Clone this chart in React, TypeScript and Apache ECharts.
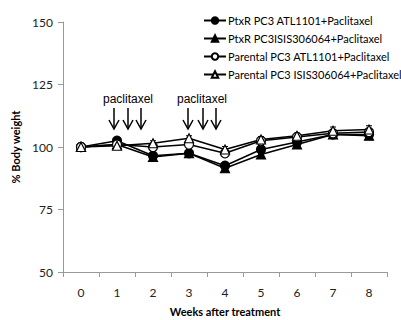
import React, { useEffect, useRef } from "react";
import * as echarts from "echarts";

const weeks = ["0", "1", "2", "3", "4", "5", "6", "7", "8"];
const ptxrAtl = [100, 102.5, 96.5, 97.5, 92.5, 99, 102, 105, 105];
const ptxrIsis = [100, 101, 96, 97.5, 91.5, 97, 101, 105, 104.5];
const parAtl = [100, 101, 100, 101, 97.5, 102.5, 104, 105.5, 106];
const parIsis = [100, 100.5, 101.5, 103.5, 99, 103, 104.5, 106.5, 107];
const errPtxrAtl = [0.5, 0.8, 1, 1, 1.2, 1.5, 1.2, 1, 1];
const errPtxrIsis = [0.5, 0.8, 1, 1, 1.2, 1.5, 1.2, 1, 1];
const errParAtl = [0.5, 0.8, 1, 1, 1.2, 1.2, 1, 1.2, 1.2];
const errParIsis = [0.5, 0.8, 1, 1, 1.2, 1.2, 1, 1.5, 1.5];
const seriesNames = [
  "PtxR PC3 ATL1101+Paclitaxel",
  "PtxR PC3ISIS306064+Paclitaxel",
  "Parental PC3 ATL1101+Paclitaxel",
  "Parental PC3 ISIS306064+Paclitaxel",
];
const annotationText = "paclitaxel";

function errorSeries(values: number[], errs: number[]) {
  return {
    type: "custom",
    silent: true,
    z: 1,
    data: values.map((v, i) => [i, v - errs[i], v + errs[i]]),
    renderItem: (params: any, api: any) => {
      const x = api.value(0);
      const lo = api.coord([x, api.value(1)]);
      const hi = api.coord([x, api.value(2)]);
      const w = 3;
      const style = { stroke: "#000", lineWidth: 1 };
      return {
        type: "group",
        children: [
          { type: "line", shape: { x1: lo[0], y1: lo[1], x2: hi[0], y2: hi[1] }, style },
          { type: "line", shape: { x1: hi[0] - w, y1: hi[1], x2: hi[0] + w, y2: hi[1] }, style },
          { type: "line", shape: { x1: lo[0] - w, y1: lo[1], x2: lo[0] + w, y2: lo[1] }, style },
        ],
      };
    },
  };
}

function arrow(x: number) {
  const top = 108;
  const bot = 129;
  const style = { stroke: "#000", lineWidth: 1.5, fill: null };
  return [
    { type: "line", shape: { x1: x, y1: top, x2: x, y2: bot }, style },
    { type: "polyline", shape: { points: [[x - 5, bot - 9], [x, bot], [x + 5, bot - 9]] }, style },
  ];
}

export default function App() {
  const ref = useRef<HTMLDivElement>(null);
  useEffect(() => {
    if (!ref.current) return;
    const chart = echarts.init(ref.current, undefined, { renderer: "svg" });
    const font = "Lato, 'Noto Sans', sans-serif";
    const arial = "'Liberation Sans', Arial, sans-serif";
    const lineSeries = (name: string, data: number[], symbol: string, fill: string) => ({
      name,
      type: "line",
      data,
      symbol,
      symbolSize: 9,
      z: 3,
      lineStyle: { color: "#000", width: 1.5 },
      itemStyle: { color: fill, borderColor: "#000", borderWidth: 1.2 },
    });
    chart.setOption({
      animation: false,
      backgroundColor: "#fff",
      textStyle: { fontFamily: font },
      grid: { left: 63, right: 14, top: 22, bottom: 48, outerBoundsMode: "none", containLabel: false },
      legend: {
        orient: "vertical",
        left: 198,
        top: 10,
        itemWidth: 22,
        itemHeight: 8,
        itemGap: 7,
        data: seriesNames,
        textStyle: { fontFamily: font, fontSize: 11, color: "#000", padding: [0, 0, 0, -3] },
      },
      xAxis: {
        type: "category",
        data: weeks,
        boundaryGap: true,
        name: "Weeks after treatment",
        nameLocation: "middle",
        nameGap: 34,
        nameTextStyle: { fontFamily: font, fontSize: 11, fontWeight: "bold", color: "#000" },
        axisLine: { lineStyle: { color: "#999" } },
        axisTick: { show: true, alignWithLabel: false, length: 5, lineStyle: { color: "#999" } },
        axisLabel: { fontSize: 12, color: "#222", margin: 14 },
        splitLine: { show: false },
      },
      yAxis: {
        type: "value",
        min: 50,
        max: 150,
        interval: 25,
        name: "% Body weight",
        nameLocation: "middle",
        nameGap: 27,
        nameTextStyle: { fontFamily: font, fontSize: 11, fontWeight: "bold", color: "#000" },
        axisLine: { show: true, lineStyle: { color: "#999" } },
        axisTick: { show: true, length: 5, lineStyle: { color: "#999" } },
        axisLabel: { fontSize: 12, color: "#222", margin: 10 },
        splitLine: { show: false },
      },
      graphic: [
        { type: "text", x: 128, y: 99, style: { text: annotationText, font: `12px ${arial}`, fill: "#000", align: "center", verticalAlign: "middle" } },
        { type: "text", x: 202, y: 99, style: { text: annotationText, font: `12px ${arial}`, fill: "#000", align: "center", verticalAlign: "middle" } },
        ...[114, 128, 141, 188, 203, 216].flatMap((x) => arrow(x)),
      ],
      series: [
        errorSeries(ptxrAtl, errPtxrAtl),
        errorSeries(ptxrIsis, errPtxrIsis),
        errorSeries(parAtl, errParAtl),
        errorSeries(parIsis, errParIsis),
        lineSeries(seriesNames[0], ptxrAtl, "circle", "#000"),
        lineSeries(seriesNames[1], ptxrIsis, "triangle", "#000"),
        lineSeries(seriesNames[2], parAtl, "circle", "#fff"),
        lineSeries(seriesNames[3], parIsis, "triangle", "#fff"),
      ],
    });
    return () => chart.dispose();
  }, []);
  return <div ref={ref} style={{ width: 401, height: 320, position: "absolute", left: 0, top: 0 }} />;
}
